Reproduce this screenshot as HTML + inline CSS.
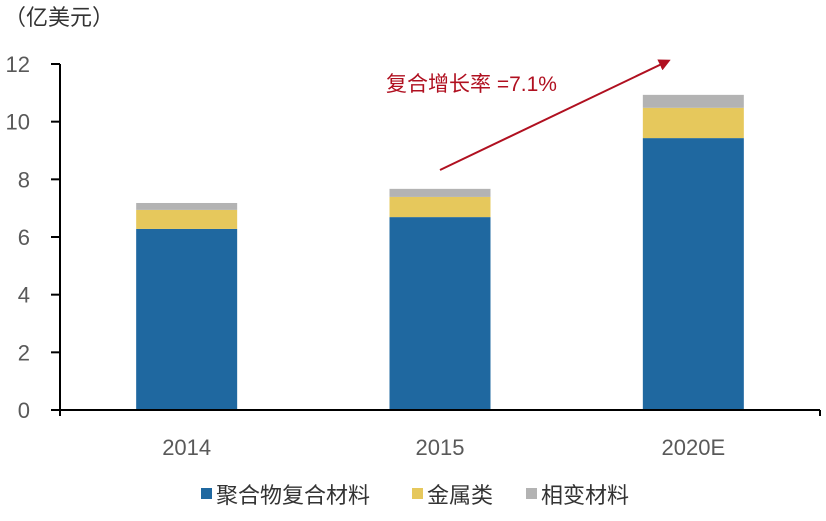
<!DOCTYPE html>
<html><head><meta charset="utf-8"><style>
body{margin:0;background:#fff;width:826px;height:516px;overflow:hidden;font-family:"Liberation Sans","Noto Sans CJK SC",sans-serif}
</style></head><body>
<svg id="c" width="826" height="516" xmlns="http://www.w3.org/2000/svg">
<defs><marker id="ah" markerWidth="12" markerHeight="12" refX="9" refY="6" orient="auto" markerUnits="userSpaceOnUse"><path d="M0,0 L12,6 L0,12 z" fill="#b01020"/></marker></defs>
<text x="4" y="25" font-size="22" fill="#333">（亿美元）</text>
<g id="bars"></g>
<g id="axes"></g>
<line x1="440" y1="170" x2="668" y2="61" stroke="#b01020" stroke-width="2" marker-end="url(#ah)"/>
<text x="386" y="91" font-size="21" fill="#b01020">复合增长率  =7.1%</text>
<g font-size="22" fill="#333">
<g><rect x="201" y="488" width="11" height="11" fill="#1f68a0"/><text x="216" y="503">聚合物复合材料</text></g>
<g><rect x="412" y="488" width="11" height="11" fill="#e6c85c"/><text x="427" y="503">金属类</text></g>
<g><rect x="526" y="488" width="11" height="11" fill="#b3b3b3"/><text x="541" y="503">相变材料</text></g>
</g>
</svg>
<script>
const categories=["2014","2015","2020E"];
const polymer=[6.28,6.69,9.43];
const metal=[0.66,0.70,1.05];
const phase=[0.24,0.28,0.45];
const yTicks=[0,2,4,6,8,10,12];
const NS="http://www.w3.org/2000/svg";
const x0=60,x1=820,y0=410,yTop=64,yMax=12;
const y=v=>y0-(v/yMax)*(y0-yTop);
const band=(x1-x0)/categories.length;
const xc=i=>x0+band*(i+0.5);
const bw=101;
function el(t,a,p){const e=document.createElementNS(NS,t);for(const k in a)e.setAttribute(k,a[k]);p.appendChild(e);return e;}
const bars=document.getElementById('bars'),axes=document.getElementById('axes');
const series=[[polymer,"#1f68a0","polymer"],[metal,"#e6c85c","metal"],[phase,"#b3b3b3","phase-change"]];
categories.forEach((c,i)=>{let base=0;series.forEach(s=>{const v=s[0][i];
const r=el('rect',{x:xc(i)-bw/2,y:y(base+v),width:bw,height:y(base)-y(base+v),fill:s[1]},bars);


base+=v;});
const t=el('text',{x:xc(i),y:455,'font-size':22,fill:'#595959','text-anchor':'middle'},axes);t.textContent=c;


});
const ya=el('line',{x1:x0,y1:yTop,x2:x0,y2:y0+6,stroke:'#000','stroke-width':2},axes);


const xa=el('line',{x1:x0-9,y1:y0,x2:x1,y2:y0,stroke:'#000','stroke-width':2},axes);


el('line',{x1:x1,y1:y0,x2:x1,y2:y0+6,stroke:'#000','stroke-width':2},axes);
yTicks.forEach(v=>{el('line',{x1:x0-9,y1:y(v),x2:x0,y2:y(v),stroke:'#000','stroke-width':2},axes);
const t=el('text',{x:30,y:y(v)+8,'font-size':22,fill:'#595959','text-anchor':'end'},axes);t.textContent=v;

});
</script>
</body></html>
